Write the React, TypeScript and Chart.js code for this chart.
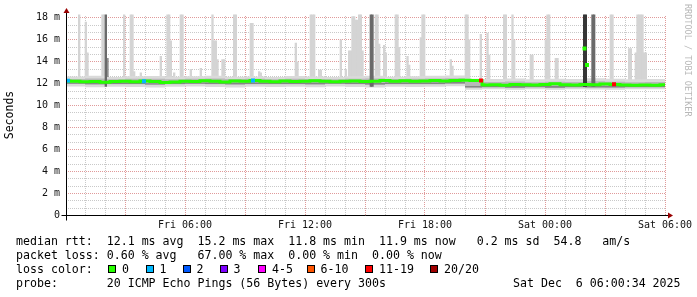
import React, { useEffect, useRef } from 'react';
import { Chart, registerables } from 'chart.js';

Chart.register(...registerables);

const FONT = '"DejaVu Sans Mono", monospace';

// ---------- axes / labels ----------
const X_MIN_HOURS = 0.1; // hours since Fri 00:00
const X_MAX_HOURS = 30;
const Y_MAX_MS = 18.3;
const xTickHours = [6, 12, 18, 24, 30];
const xTickLabels = ['Fri 06:00', 'Fri 12:00', 'Fri 18:00', 'Sat 00:00', 'Sat 06:00'];
const yTickValues = [0, 2, 4, 6, 8, 10, 12, 14, 16, 18];
const yTickLabels = ['0', '2 m', '4 m', '6 m', '8 m', '10 m', '12 m', '14 m', '16 m', '18 m'];
const X_GRID_STEP_HOURS = 1; // minor vertical grid
const X_MAJOR_EVERY = 3; // red vertical grid every 3 h
const Y_GRID_STEP_MS = 2 / 3; // minor horizontal grid

// ---------- median rtt (ms) ----------
const medianHours = [0, 0.5, 1, 1.5, 2, 2.5, 3, 3.5, 4, 4.5, 5, 5.5, 6, 6.5, 7, 7.5, 8, 8.5, 9, 9.5, 10, 10.5,
  11, 11.5, 12, 12.5, 13, 13.5, 14, 14.5, 15, 15.5, 16, 16.5, 17, 17.5, 18, 18.5, 19, 19.5, 20, 20.5, 20.8, 20.9,
  21, 21.5, 22, 22.5, 23, 23.5, 24, 24.5, 25, 25.5, 26, 26.5, 27, 27.5, 28, 28.5, 29, 29.5, 30];
const medianMs = [12.25, 12.22, 12.18, 12.2, 12.14, 12.2, 12.22, 12.17, 12.24, 12.2, 12.12, 12.15, 12.23, 12.2,
  12.26, 12.22, 12.16, 12.24, 12.22, 12.28, 12.22, 12.18, 12.24, 12.2, 12.22, 12.27, 12.22, 12.18, 12.22, 12.25,
  12.2, 12.23, 12.28, 12.23, 12.26, 12.22, 12.24, 12.3, 12.24, 12.28, 12.32, 12.3, 12.3, 11.9,
  11.88, 11.9, 11.86, 11.92, 11.9, 11.87, 11.93, 12.0, 11.9, 11.88, 11.92, 11.9, 11.97, 11.93, 11.88, 11.86,
  11.88, 11.85, 11.9];
const medianSpikeHours = [25.975, 26.1];
const medianSpikeMs = [15.2, 13.7];

// ---------- loss-coloured median samples ----------
const lossHours = [0.15, 3.95, 9.4, 20.8, 27.45];
const lossRtt = [12.28, 12.22, 12.3, 12.3, 11.95];
const lossCount = [1, 1, 1, 13, 12];

// ---------- smoke band (ms) ----------
const bandHours = [0, 1, 2, 3, 4, 5, 6, 7, 8, 9, 10, 11, 12, 13, 14, 15, 16, 17, 18, 19, 20, 20.85,
  22, 23, 24, 25, 26, 27, 28, 29, 30];
const outerHi = [12.7, 12.65, 12.72, 12.62, 12.68, 12.7, 12.63, 12.68, 12.72, 12.64, 12.66, 12.62, 12.7, 12.66,
  12.62, 12.68, 12.72, 12.64, 12.67, 12.72, 12.75, 12.45, 12.42, 12.48, 12.4, 12.45, 12.42, 12.5, 12.44, 12.4, 12.42];
const outerLo = [11.72, 11.75, 11.68, 11.72, 11.7, 11.66, 11.72, 11.75, 11.7, 11.66, 11.72, 11.7, 11.72, 11.68,
  11.74, 11.7, 11.66, 11.72, 11.7, 11.72, 11.76, 11.45, 11.5, 11.46, 11.5, 11.44, 11.5, 11.48, 11.45, 11.5, 11.5];
const midHi = [12.45, 12.42, 12.48, 12.4, 12.44, 12.46, 12.4, 12.45, 12.48, 12.42, 12.44, 12.4, 12.46, 12.43,
  12.4, 12.45, 12.48, 12.42, 12.44, 12.48, 12.5, 12.18, 12.15, 12.2, 12.14, 12.18, 12.16, 12.22, 12.17, 12.14, 12.15];
const midLo = [11.95, 11.98, 11.92, 11.96, 11.94, 11.9, 11.96, 11.98, 11.94, 11.9, 11.96, 11.94, 11.96, 11.92,
  11.98, 11.94, 11.9, 11.96, 11.94, 11.96, 12.0, 11.66, 11.7, 11.66, 11.7, 11.64, 11.7, 11.68, 11.66, 11.7, 11.7];
const innerHi = [12.12, 12.1, 12.08, 12.12, 12.1, 12.05, 12.1, 12.12, 12.1, 12.08, 12.12, 12.1, 12.1, 12.08,
  12.12, 12.1, 12.06, 12.12, 12.1, 12.12, 12.15, 11.8, 11.8, 11.78, 11.82, 11.78, 11.8, 11.82, 11.8, 11.78, 11.8];
const innerLo = [11.98, 12.0, 11.95, 11.98, 11.97, 11.92, 11.98, 12.0, 11.97, 11.94, 11.98, 11.97, 11.98, 11.95,
  12.0, 11.97, 11.93, 11.98, 11.97, 11.98, 12.02, 11.66, 11.68, 11.64, 11.68, 11.63, 11.68, 11.66, 11.65, 11.68, 11.68];

// ---------- smoke spikes: 5-minute step start (minutes since Fri 00:00) and top (ms) ----------
const lightSpikeMin = [40, 60, 65, 110, 115, 175, 195, 200, 205, 225, 285, 305, 310, 315, 325, 345, 350, 375, 405,
  440, 445, 450, 455, 470, 475, 505, 510, 555, 560, 580, 585, 690, 695, 735, 740, 745, 760, 765, 825, 840, 850, 855,
  860, 865, 870, 875, 880, 885, 890, 930, 935, 940, 955, 960, 990, 995, 1000, 1025, 1030, 1065, 1070, 1075, 1155,
  1160, 1200, 1205, 1210, 1245, 1265, 1270, 1315, 1320, 1340, 1345, 1395, 1400, 1440, 1445, 1450, 1470, 1475, 1635,
  1640, 1690, 1695, 1710, 1715, 1720, 1725, 1730, 1735, 1740];
const lightSpikeTop = [18.6, 17.6, 14.8, 18.6, 18.6, 18.6, 18.6, 18.6, 13.1, 13.0, 14.5, 18.6, 18.6, 15.9, 13.0,
  18.6, 18.6, 13.3, 13.4, 18.6, 15.9, 15.9, 14.2, 14.2, 14.2, 18.6, 18.6, 17.5, 17.5, 13.1, 13.0, 15.7, 14.0, 18.6,
  18.6, 18.6, 13.25, 13.25, 16.0, 13.3, 15.0, 15.0, 18.1, 18.1, 17.8, 17.8, 18.6, 18.6, 15.0, 18.6, 18.6, 15.6, 15.5,
  14.8, 18.6, 18.6, 15.3, 14.5, 13.7, 16.2, 18.6, 18.6, 14.2, 13.6, 18.6, 18.6, 16.0, 16.5, 16.6, 14.6, 18.6, 18.6,
  18.6, 16.0, 14.6, 14.6, 16.0, 18.6, 18.6, 14.3, 14.3, 18.6, 18.6, 15.2, 15.2, 14.8, 18.6, 18.6, 18.6, 18.6, 14.8,
  14.8];
const midSpikeMin = [125];
const midSpikeTop = [14.3];
const darkSpikeMin = [120, 915, 920, 1580, 1585];
const darkSpikeTop = [18.6, 18.6, 18.6, 18.6, 18.6];
const blackSpikeMin = [1555, 1560];
const blackSpikeTop = [18.6, 18.6];

// ---------- legend text ----------
const legendMedian = 'median rtt:  12.1 ms avg  15.2 ms max  11.8 ms min  11.9 ms now   0.2 ms sd  54.8   am/s';
const legendLoss = 'packet loss: 0.60 % avg   67.00 % max  0.00 % min  0.00 % now';
const legendLossTitle = 'loss color:';
const lossLegendLabels = ['0', '1', '2', '3', '4-5', '6-10', '11-19', '20/20'];
const lossLegendColors = ['#26ff00', '#00b8ff', '#0059ff', '#7e00ff', '#ff00ff', '#ff5500', '#ff0000', '#a00000'];
const legendProbe = 'probe:       20 ICMP Echo Pings (56 Bytes) every 300s';
const legendDate = 'Sat Dec  6 06:00:34 2025';
const watermark = 'RRDTOOL / TOBI OETIKER';

// layout (pixels)
const squareLeft = [108, 145.5, 182.5, 219.5, 258, 306.5, 365, 430];

const lossColor = (n: number) =>
  n === 0 ? lossLegendColors[0] : n === 1 ? lossLegendColors[1] : n === 2 ? lossLegendColors[2] :
  n === 3 ? lossLegendColors[3] : n <= 5 ? lossLegendColors[4] : n <= 10 ? lossLegendColors[5] :
  n <= 19 ? lossLegendColors[6] : lossLegendColors[7];

const RED = '#e09a9a';
const GRAY = '#c9c9c9';
const near = (a: number, b: number) => Math.abs(a - b) < 1e-6;

const pts = (xs: number[], ys: number[]) => xs.map((x, i) => ({ x, y: ys[i] }));
const SPIKE_BASE = 12.0;
const spikes = (mins: number[], tops: number[], base: number) =>
  mins.map((m, i) => ({ x: (m + 2.5) / 60, y: [base, tops[i]] }));

const gridPlugin = {
  id: 'rrdGrid',
  beforeDatasetsDraw(chart: any) {
    const { ctx, chartArea: a, scales } = chart;
    const xs = scales.x;
    const ys = scales.y;
    ctx.save();
    // vertical dotted grid
    for (let h = X_GRID_STEP_HOURS; h <= X_MAX_HOURS + 1e-9; h += X_GRID_STEP_HOURS) {
      const px = Math.floor(xs.getPixelForValue(h));
      if (px <= a.left) continue;
      const major = near(h / X_MAJOR_EVERY, Math.round(h / X_MAJOR_EVERY));
      ctx.fillStyle = major ? RED : GRAY;
      for (let py = Math.ceil(a.top) + 1; py < a.bottom; py += 2) ctx.fillRect(px, py, 1, 1);
    }
    // horizontal dotted grid
    const n = Math.floor(Y_MAX_MS / Y_GRID_STEP_MS + 1e-6);
    for (let k = 1; k <= n; k++) {
      const v = k * Y_GRID_STEP_MS;
      const py = Math.floor(ys.getPixelForValue(v));
      const major = yTickValues.some((t) => near(t, v));
      ctx.fillStyle = major ? RED : GRAY;
      for (let px = Math.ceil(a.left) + 1; px < a.right; px += 2) ctx.fillRect(px, py, 1, 1);
    }
    ctx.restore();
  },
};

const axesPlugin = {
  id: 'rrdAxes',
  afterDraw(chart: any) {
    const { ctx, scales } = chart;
    const y0 = Math.floor(scales.y.getPixelForValue(0)) + 0.5;
    const x0 = Math.floor(scales.x.getPixelForValue(X_MIN_HOURS)) - 0.5;
    const xr = scales.x.getPixelForValue(X_MAX_HOURS);
    const yt = scales.y.getPixelForValue(Y_MAX_MS);
    ctx.save();
    ctx.strokeStyle = '#000';
    ctx.lineWidth = 1;
    ctx.beginPath();
    ctx.moveTo(x0 - 5, y0);
    ctx.lineTo(xr + 4, y0);
    ctx.moveTo(x0, y0 + 5);
    ctx.lineTo(x0, yt - 2);
    ctx.stroke();
    ctx.fillStyle = '#990000';
    ctx.beginPath();
    ctx.moveTo(x0 - 3, yt - 1.5);
    ctx.lineTo(x0 + 3, yt - 1.5);
    ctx.lineTo(x0, yt - 6.5);
    ctx.closePath();
    ctx.fill();
    ctx.beginPath();
    ctx.moveTo(xr + 3, y0 - 3);
    ctx.lineTo(xr + 3, y0 + 3);
    ctx.lineTo(xr + 8, y0);
    ctx.closePath();
    ctx.fill();
    ctx.restore();
  },
};

export default function App() {
  const ref = useRef<HTMLCanvasElement>(null);

  useEffect(() => {
    const canvas = ref.current;
    if (!canvas) return;
    Chart.defaults.font.family = FONT;

    const bandLine = (ys: number[], order: number, fill: any, bg?: string) => ({
      type: 'line',
      data: pts(bandHours, ys),
      borderColor: 'transparent',
      borderWidth: 1,
      pointRadius: 0,
      stepped: 'after',
      fill,
      backgroundColor: bg || 'transparent',
      order,
    });
    const barSet = (data: any[], color: string, order: number) => ({
      type: 'bar',
      data,
      backgroundColor: color,
      borderWidth: 0,
      grouped: false,
      barPercentage: 1,
      categoryPercentage: 1,
      clip: 0,
      order,
    });

    const chart = new Chart(canvas, {
      type: 'bar',
      data: {
        datasets: [
          {
            type: 'line', data: pts(lossHours, lossRtt), showLine: false, pointStyle: 'rect',
            pointRadius: 2.8, pointBorderWidth: 0, pointBackgroundColor: lossCount.map(lossColor), order: 0,
          },
          {
            type: 'line', data: pts(medianSpikeHours, medianSpikeMs), showLine: false, pointStyle: 'rect',
            pointRadius: 2.8, pointBorderWidth: 0, pointBackgroundColor: lossLegendColors[0], order: 0,
          },
          {
            type: 'line', data: pts(medianHours, medianMs), borderColor: lossLegendColors[0], borderWidth: 3,
            pointRadius: 0, stepped: 'middle', fill: false, order: 1,
          },
          bandLine(innerHi, 2, false),
          bandLine(innerLo, 2, 3, '#858585'),
          bandLine(midHi, 3, false),
          bandLine(midLo, 3, 5, '#b8b8b8'),
          bandLine(outerHi, 4, false),
          bandLine(outerLo, 4, 7, '#dadada'),
          barSet(spikes(lightSpikeMin, lightSpikeTop, SPIKE_BASE), '#d4d4d4', 6),
          barSet(spikes(midSpikeMin, midSpikeTop, SPIKE_BASE), '#8e8e8e', 5),
          barSet(spikes(darkSpikeMin, darkSpikeTop, 11.75), '#6a6a6a', 1.5),
          barSet(spikes(blackSpikeMin, blackSpikeTop, 11.75), '#363636', 1.5),
        ] as any,
      },
      options: {
        responsive: false,
        maintainAspectRatio: false,
        animation: false,
        events: [],
        layout: { padding: { left: 0, top: 14.5, right: 32, bottom: 61.5 } },
        plugins: { legend: { display: false }, tooltip: { enabled: false }, title: { display: false } },
        scales: {
          x: {
            type: 'linear', min: X_MIN_HOURS, max: X_MAX_HOURS, offset: false,
            afterBuildTicks: (s: any) => { s.ticks = xTickHours.map((v) => ({ value: v })); },
            afterFit: (s: any) => { s.height = 20; },
            grid: { display: false, offset: false, drawTicks: false },
            border: { display: false },
            ticks: {
              autoSkip: false, maxRotation: 0, minRotation: 0, padding: 4, color: '#111',
              font: { family: FONT, size: 10 },
              callback: (v: any) => {
                const i = xTickHours.findIndex((h) => near(h, Number(v)));
                return i >= 0 ? xTickLabels[i] : '';
              },
            },
          },
          y: {
            type: 'linear', min: 0, max: Y_MAX_MS,
            afterBuildTicks: (s: any) => { s.ticks = yTickValues.map((v) => ({ value: v })); },
            afterFit: (s: any) => { s.width = 67; },
            grid: { display: false, drawTicks: false },
            border: { display: false },
            title: {
              display: true, text: 'Seconds', color: '#000',
              font: { family: FONT, size: 11.5 }, padding: { top: 3, bottom: 0 },
            },
            ticks: {
              autoSkip: false, padding: 7, color: '#111', font: { family: FONT, size: 10 },
              callback: (v: any) => {
                const i = yTickValues.findIndex((t) => near(t, Number(v)));
                return i >= 0 ? yTickLabels[i] : '';
              },
            },
          },
        },
      } as any,
      plugins: [gridPlugin, axesPlugin],
    });
    return () => chart.destroy();
  }, []);

  const text: React.CSSProperties = {
    position: 'absolute', left: 16, fontFamily: FONT, fontSize: '11.6px', lineHeight: '14px',
    whiteSpace: 'pre', color: '#000', margin: 0,
  };

  return (
    <div style={{ position: 'absolute', left: 0, top: 0, width: 697, height: 297, background: '#fff', overflow: 'hidden' }}>
      <canvas ref={ref} width={697} height={297} style={{ position: 'absolute', left: 0, top: 0, width: 697, height: 297 }} />
      <div style={{ ...text, top: 234 }}>{legendMedian}</div>
      <div style={{ ...text, top: 248 }}>{legendLoss}</div>
      <div style={{ ...text, top: 262 }}>{legendLossTitle}</div>
      {lossLegendLabels.map((lab, i) => (
        <React.Fragment key={lab}>
          <div style={{
            position: 'absolute', left: squareLeft[i], top: 265, width: 8, height: 8, boxSizing: 'border-box',
            border: '1px solid #000', background: lossLegendColors[i],
          }} />
          <div style={{ ...text, left: squareLeft[i] + 14, top: 262 }}>{lab}</div>
        </React.Fragment>
      ))}
      <div style={{ ...text, top: 276 }}>{legendProbe}</div>
      <div style={{ ...text, left: 513, top: 276 }}>{legendDate}</div>
      <div style={{
        position: 'absolute', left: 683, top: 4, writingMode: 'vertical-rl', fontFamily: FONT, fontSize: '8.5px',
        lineHeight: '10px', color: '#b8b8b8', whiteSpace: 'pre',
      }}>{watermark}</div>
    </div>
  );
}
